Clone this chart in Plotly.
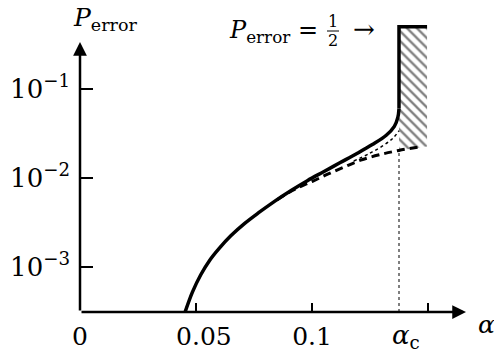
import plotly.graph_objects as go

# Retrieval error probability versus storage load alpha
alpha_solid = [0.0453, 0.0485, 0.0520, 0.0560, 0.0600, 0.0650, 0.0710,
               0.0770, 0.0840, 0.0910, 0.0980, 0.1050, 0.1120, 0.1190,
               0.1260, 0.1320, 0.1355, 0.1370, 0.1375]
p_solid = [3.12e-4, 5.25e-4, 8.13e-4, 1.20e-3, 1.62e-3, 2.24e-3, 3.09e-3,
           4.07e-3, 5.50e-3, 7.24e-3, 9.33e-3, 1.175e-2, 1.48e-2, 1.86e-2,
           2.37e-2, 3.02e-2, 3.80e-2, 4.79e-2, 6.03e-2]

alpha_dashed = [0.0850, 0.0920, 0.1000, 0.1070, 0.1140, 0.1210, 0.1290,
                0.1375, 0.1474]
p_dashed = [5.69e-3, 7.33e-3, 9.12e-3, 1.11e-2, 1.33e-2, 1.585e-2, 1.82e-2,
            2.04e-2, 2.26e-2]

alpha_dotted = [0.1180, 0.1250, 0.1310, 0.1350, 0.1375]
p_dotted = [1.55e-2, 1.90e-2, 2.34e-2, 2.82e-2, 3.39e-2]

alpha_c = 0.1375
alpha_end = 0.1496
p_half = 0.5

x_ticks = [0, 0.05, 0.1, 0.15]
x_tick_text = ["0", "\u00a0\u00a00.05", "0.1", ""]
y_ticks = [1e-3, 1e-2, 1e-1]
y_tick_text = ["10<sup>−3</sup>", "10<sup>−2</sup>", "10<sup>−1</sup>"]

# Plot-area geometry (pixels)
W, H = 494, 354
L, R, T, B = 80, 28, 8, 42
X_MAX = 0.16638
LOG_MIN = -3.506
LOG_MAX = LOG_MIN + (H - B - T) / 89.0

FONT = "DejaVu Serif"
INK = "black"


def px(xp):
    return (xp - L) / (W - L - R)


def py(yp):
    return (H - B - yp) / (H - B - T)


fig = go.Figure()

# hatched region above alpha_c
fig.add_trace(go.Scatter(
    x=[alpha_c, alpha_end, alpha_end, alpha_c],
    y=[p_half, p_half, p_dashed[-1], p_dashed[-2]],
    fill="toself", mode="lines", line=dict(width=0, color="rgba(0,0,0,0)"),
    fillcolor="white",
    fillpattern=dict(shape="\\", fgcolor=INK, bgcolor="white",
                     size=7, solidity=0.33),
    hoverinfo="skip", showlegend=False))

# vertical dotted marker at alpha_c
fig.add_trace(go.Scatter(
    x=[alpha_c, alpha_c], y=[10 ** LOG_MIN, p_dashed[-2]],
    mode="lines", line=dict(color="#555", width=1.5, dash="dot"),
    showlegend=False, hoverinfo="skip"))

fig.add_trace(go.Scatter(
    x=alpha_dotted, y=p_dotted, mode="lines",
    line=dict(color=INK, width=1.5, dash="dot", shape="spline"),
    showlegend=False, hoverinfo="skip"))

fig.add_trace(go.Scatter(
    x=alpha_dashed, y=p_dashed, mode="lines",
    line=dict(color=INK, width=3, dash="8px,5px", shape="spline"),
    showlegend=False, hoverinfo="skip"))

fig.add_trace(go.Scatter(
    x=alpha_solid, y=p_solid, mode="lines",
    line=dict(color=INK, width=3.5, shape="spline", smoothing=1.0),
    showlegend=False, hoverinfo="skip"))

# jump to P = 1/2 beyond alpha_c
fig.add_trace(go.Scatter(
    x=[alpha_c, alpha_c, alpha_end], y=[p_solid[-1], p_half, p_half],
    mode="lines", line=dict(color=INK, width=3.5),
    showlegend=False, hoverinfo="skip"))

annotations = []
# axis arrows
annotations.append(dict(x=X_MAX, y=LOG_MIN, ax=0, ay=LOG_MIN,
                        xref="x", yref="y", axref="x", ayref="y", text="",
                        showarrow=True, arrowhead=2, arrowsize=1.1,
                        arrowwidth=2.5, arrowcolor=INK))
annotations.append(dict(x=0, y=-1 + (89 - 42) / 89.0, ax=0, ay=LOG_MIN,
                        xref="x", yref="y", axref="x", ayref="y", text="",
                        showarrow=True, arrowhead=2, arrowsize=1.1,
                        arrowwidth=2.5, arrowcolor=INK))

# axis titles
annotations.append(dict(x=px(71), y=py(19), xref="paper", yref="paper",
                        xanchor="left", yanchor="middle", showarrow=False,
                        text="<i>P</i><sub>error</sub>",
                        font=dict(family=FONT, size=25, color=INK)))
annotations.append(dict(x=px(476), y=py(324), xref="paper", yref="paper",
                        xanchor="left", yanchor="middle", showarrow=False,
                        text="<i>α</i>",
                        font=dict(family=FONT, size=25, color=INK)))
# alpha_c tick label
annotations.append(dict(x=alpha_c, y=py(336), xref="x", yref="paper",
                        xanchor="left", yanchor="middle", xshift=-9,
                        showarrow=False, text="<i>α</i><sub>c</sub>",
                        font=dict(family=FONT, size=26, color=INK)))

# P_error = 1/2 label next to the plateau
yc = 31
annotations.append(dict(x=px(320), y=py(yc), xref="paper", yref="paper",
                        xanchor="right", yanchor="middle", showarrow=False,
                        text="<i>P</i><sub>error</sub> =",
                        font=dict(family=FONT, size=24, color=INK)))
annotations.append(dict(x=px(333), y=py(yc - 9), xref="paper", yref="paper",
                        xanchor="center", yanchor="middle", showarrow=False,
                        text="1", font=dict(family=FONT, size=16, color=INK)))
annotations.append(dict(x=px(333), y=py(yc + 9), xref="paper", yref="paper",
                        xanchor="center", yanchor="middle", showarrow=False,
                        text="2", font=dict(family=FONT, size=16, color=INK)))
annotations.append(dict(x=px(364), y=py(yc - 2), xref="paper", yref="paper",
                        xanchor="center", yanchor="middle", showarrow=False,
                        text="→", font=dict(family=FONT, size=26, color=INK)))

shapes = [dict(type="line", xref="paper", yref="paper",
               x0=px(327), x1=px(339), y0=py(yc), y1=py(yc),
               line=dict(color=INK, width=1))]

fig.update_layout(
    width=W, height=H,
    margin=dict(l=L, r=R, t=T, b=B, autoexpand=False),
    paper_bgcolor="white", plot_bgcolor="white",
    font=dict(family=FONT, color=INK),
    annotations=annotations, shapes=shapes,
    xaxis=dict(range=[0, X_MAX], tickvals=x_ticks, ticktext=x_tick_text,
               ticks="inside", ticklen=9, tickwidth=1.5, tickcolor=INK,
               showline=False, showgrid=False, zeroline=False,
               automargin=False,
               tickfont=dict(family=FONT, size=25, color=INK),
               ticklabelstandoff=7),
    yaxis=dict(type="log", range=[LOG_MIN, LOG_MAX], tickvals=y_ticks,
               ticktext=y_tick_text, ticks="inside", ticklen=13,
               tickwidth=1.5, tickcolor=INK, showline=False,
               showgrid=False, zeroline=False, automargin=False,
               tickfont=dict(family=FONT, size=26, color=INK),
               ticklabelstandoff=9),
)

fig.write_html("out.html")
